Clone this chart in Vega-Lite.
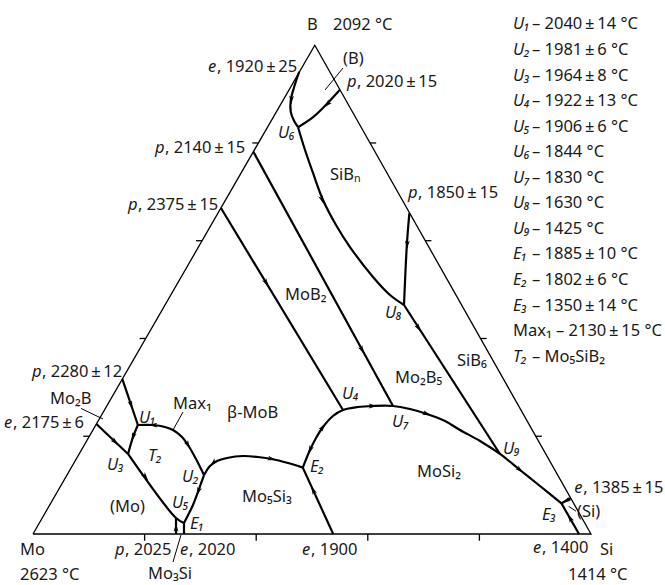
{
"$schema": "https://vega.github.io/schema/vega-lite/v6.json",
"width": 665, "height": 585, "autosize": {"type": "none"}, "padding": 0,
"background": "white",
"config": {"view": {"stroke": null}, "font": "Noto Sans"},
"datasets": {
"tri": [
{"o":1,"x":0,"y":0},{"o":2,"x":100,"y":0},{"o":3,"x":50.5,"y":87.6},{"o":4,"x":0,"y":0}
],
"curves": [
{"c":"C1","o":1,"x":47.7,"y":82.8},{"c":"C1","o":2,"x":46.8,"y":80.1},{"c":"C1","o":3,"x":46.2,"y":77.8},{"c":"C1","o":4,"x":46.2,"y":75.6},{"c":"C1","o":5,"x":46.8,"y":74.0},{"c":"C1","o":6,"x":47.5,"y":72.9},
{"c":"C2","o":1,"x":47.5,"y":72.9},{"c":"C2","o":2,"x":48.75,"y":68.82},{"c":"C2","o":3,"x":50.18,"y":64.7},{"c":"C2","o":4,"x":51.97,"y":59.86},{"c":"C2","o":5,"x":54.3,"y":55.38},{"c":"C2","o":6,"x":56.81,"y":51.43},{"c":"C2","o":7,"x":60.93,"y":46.06},{"c":"C2","o":8,"x":63.98,"y":42.83},{"c":"C2","o":9,"x":66.49,"y":41.04},
{"c":"C3","o":1,"x":55.0,"y":79.6},{"c":"C3","o":2,"x":52.7,"y":77.1},{"c":"C3","o":3,"x":50.2,"y":74.7},{"c":"C3","o":4,"x":47.5,"y":72.9},
{"c":"C4","o":1,"x":67.45,"y":57.5},{"c":"C4","o":2,"x":67.0,"y":51.8},{"c":"C4","o":3,"x":66.49,"y":41.04},
{"c":"C5","o":1,"x":39.5,"y":68.5},{"c":"C5","o":2,"x":64.52,"y":22.94},
{"c":"C6","o":1,"x":33.68,"y":58.42},{"c":"C6","o":2,"x":55.56,"y":22.22},
{"c":"C7","o":1,"x":66.49,"y":41.04},{"c":"C7","o":2,"x":83.69,"y":14.34},
{"c":"C8","o":1,"x":48.35,"y":11.9},{"c":"C8","o":2,"x":49.64,"y":15.05},{"c":"C8","o":3,"x":50.72,"y":17.2},{"c":"C8","o":4,"x":51.97,"y":19.18},{"c":"C8","o":5,"x":53.76,"y":21.15},{"c":"C8","o":6,"x":55.56,"y":22.22},{"c":"C8","o":7,"x":58.24,"y":22.76},{"c":"C8","o":8,"x":60.93,"y":22.94},{"c":"C8","o":9,"x":64.52,"y":22.94},{"c":"C8","o":10,"x":67.56,"y":22.4},{"c":"C8","o":11,"x":70.61,"y":21.51},{"c":"C8","o":12,"x":73.84,"y":20.25},{"c":"C8","o":13,"x":76.52,"y":18.64},{"c":"C8","o":14,"x":80.11,"y":16.67},{"c":"C8","o":15,"x":83.69,"y":14.34},{"c":"C8","o":16,"x":87.28,"y":11.47},{"c":"C8","o":17,"x":90.86,"y":8.6},{"c":"C8","o":18,"x":94.7,"y":5.5},
{"c":"C9","o":1,"x":30.65,"y":10.57},{"c":"C9","o":2,"x":31.72,"y":12.19},{"c":"C9","o":3,"x":32.97,"y":13.08},{"c":"C9","o":4,"x":34.77,"y":13.62},{"c":"C9","o":5,"x":37.63,"y":13.98},{"c":"C9","o":6,"x":40.32,"y":13.8},{"c":"C9","o":7,"x":42.83,"y":13.44},{"c":"C9","o":8,"x":45.7,"y":12.72},{"c":"C9","o":9,"x":48.35,"y":11.9},
{"c":"C10","o":1,"x":53.8,"y":0},{"c":"C10","o":2,"x":48.35,"y":11.9},
{"c":"C11","o":1,"x":97.85,"y":0},{"c":"C11","o":2,"x":94.7,"y":5.5},
{"c":"C12","o":1,"x":96.38,"y":6.4},{"c":"C12","o":2,"x":94.7,"y":5.5},
{"c":"C13","o":1,"x":16.0,"y":27.8},{"c":"C13","o":2,"x":18.8,"y":19.53},
{"c":"C14","o":1,"x":18.8,"y":19.53},{"c":"C14","o":2,"x":17.92,"y":17.38},{"c":"C14","o":3,"x":17.03,"y":14.34},
{"c":"C15","o":1,"x":11.36,"y":19.71},{"c":"C15","o":2,"x":17.03,"y":14.34},
{"c":"C16","o":1,"x":17.03,"y":14.34},{"c":"C16","o":2,"x":25.63,"y":2.87},{"c":"C16","o":3,"x":27.06,"y":1.97},
{"c":"C17","o":1,"x":18.8,"y":19.53},{"c":"C17","o":2,"x":21.51,"y":19.53},{"c":"C17","o":3,"x":23.66,"y":19.18},{"c":"C17","o":4,"x":25.09,"y":18.64},{"c":"C17","o":5,"x":26.7,"y":17.38},{"c":"C17","o":6,"x":27.78,"y":15.95},{"c":"C17","o":7,"x":29.21,"y":13.44},{"c":"C17","o":8,"x":30.65,"y":10.57},
{"c":"C18","o":1,"x":30.65,"y":10.57},{"c":"C18","o":2,"x":29.75,"y":8.06},{"c":"C18","o":3,"x":28.67,"y":5.2},{"c":"C18","o":4,"x":27.06,"y":1.97},
{"c":"C19","o":1,"x":27.06,"y":1.97},{"c":"C19","o":2,"x":27.06,"y":0},
{"c":"C20","o":1,"x":25.63,"y":0},{"c":"C20","o":2,"x":25.63,"y":2.87}
],
"arrows": [
{"x":46.3,"y":77.8,"a":182},{"x":52.7,"y":77.0,"a":225},{"x":51.8,"y":59.9,"a":160},{"x":67.05,"y":51.8,"a":183},
{"x":69.1,"y":36.9,"a":147},{"x":58.98,"y":32.97,"a":151},{"x":41.82,"y":44.98,"a":149},
{"x":49.64,"y":15.05,"a":204},{"x":51.97,"y":19.18,"a":38},{"x":60.93,"y":22.94,"a":90},{"x":70.61,"y":21.51,"a":110},{"x":87.28,"y":11.47,"a":130},
{"x":32.3,"y":12.7,"a":223},{"x":42.83,"y":13.44,"a":104},{"x":50.19,"y":7.89,"a":335},
{"x":96.21,"y":2.87,"a":330},{"x":95.54,"y":5.95,"a":242},
{"x":17.58,"y":23.12,"a":162},{"x":17.92,"y":17.38,"a":199},{"x":14.73,"y":16.49,"a":134},{"x":20.16,"y":10.22,"a":143},
{"x":21.51,"y":19.53,"a":270},{"x":27.78,"y":15.95,"a":150},{"x":29.6,"y":7.6,"a":200},{"x":25.63,"y":1.2,"a":0}
],
"ticks": [
{"x":9.0,"y":17.52,"x2":10.1,"y2":17.52},{"x":19.1,"y":35.04,"x2":20.2,"y2":35.04},{"x":29.2,"y":52.56,"x2":30.3,"y2":52.56},{"x":39.3,"y":70.08,"x2":40.4,"y2":70.08},
{"x":90.1,"y":17.52,"x2":91.2,"y2":17.52},{"x":80.2,"y":35.04,"x2":81.3,"y2":35.04},{"x":70.3,"y":52.56,"x2":71.4,"y2":52.56},{"x":60.4,"y":70.08,"x2":61.5,"y2":70.08},
{"x":20,"y":0,"x2":20,"y2":-1.2},{"x":40,"y":0,"x2":40,"y2":-1.2},{"x":60,"y":0,"x2":60,"y2":-1.2},{"x":80,"y":0,"x2":80,"y2":-1.2}
],
"leaders": [
{"x":55.56,"y":83.51,"x2":52.33,"y2":79.57},{"x":8.6,"y":22.5,"x2":12.54,"y2":20.61},{"x":26.88,"y":21.86,"x2":25.09,"y2":18.64},
{"x":96.0,"y":4.95,"x2":97.3,"y2":4.1},{"x":26.52,"y":-0.18,"x2":25.09,"y2":-5.02}
],
"labN": [
{"x":49.1,"y":91.22,"t":"B"},{"x":53.76,"y":91.22,"t":"2092 °C"},
{"x":32.97,"y":83.69,"t":", 1920\u2009±\u200925"},{"x":55.56,"y":85.13,"t":"(B)"},{"x":58.06,"y":81.0,"t":", 2020\u2009±\u200915"},
{"x":23.66,"y":69.18,"t":", 2140\u2009±\u200915"},{"x":18.82,"y":58.96,"t":", 2375\u2009±\u200915"},{"x":69.0,"y":61.11,"t":", 1850\u2009±\u200915"},
{"x":1.61,"y":29.03,"t":", 2280\u2009±\u200912"},{"x":-3.58,"y":19.95,"t":", 2175\u2009±\u20096"},{"x":98.6,"y":8.24,"t":", 1385\u2009±\u200915"},
{"x":91.22,"y":-2.51,"t":", 1400"},{"x":49.82,"y":-2.87,"t":", 1900"},{"x":16.49,"y":-2.87,"t":", 2025"},{"x":27.96,"y":-2.87,"t":", 2020"},
{"x":-2.33,"y":-2.87,"t":"Mo"},{"x":-2.33,"y":-7.35,"t":"2623 °C"},{"x":20.61,"y":-7.17,"t":"Mo₃Si"},{"x":101.61,"y":-2.87,"t":"Si"},{"x":95.88,"y":-7.35,"t":"1414 °C"},
{"x":53.23,"y":64.34,"t":"SiBₙ"},{"x":45.16,"y":42.83,"t":"MoB₂"},{"x":75.99,"y":31.0,"t":"SiB₆"},{"x":64.87,"y":27.96,"t":"Mo₂B₅"},
{"x":34.77,"y":21.68,"t":"β-MoB"},{"x":37.46,"y":6.63,"t":"Mo₅Si₃"},{"x":68.82,"y":11.11,"t":"MoSi₂"},{"x":97.49,"y":3.94,"t":"(Si)"},
{"x":3.05,"y":24.2,"t":"Mo₂B"},{"x":25.09,"y":23.3,"t":"Max₁"},{"x":13.8,"y":4.84,"t":"(Mo)"},
{"x":89.43,"y":91.31,"t":"– 2040\u2009±\u200914 °C"},{"x":89.43,"y":86.73,"t":"– 1981\u2009±\u20096 °C"},{"x":89.43,"y":82.15,"t":"– 1964\u2009±\u20098 °C"},
{"x":89.43,"y":77.57,"t":"– 1922\u2009±\u200913 °C"},{"x":89.43,"y":72.99,"t":"– 1906\u2009±\u20096 °C"},{"x":89.43,"y":68.41,"t":"– 1844 °C"},
{"x":89.43,"y":63.84,"t":"– 1830 °C"},{"x":89.43,"y":59.26,"t":"– 1630 °C"},{"x":89.43,"y":54.68,"t":"– 1425 °C"},
{"x":89.43,"y":50.1,"t":"– 1885\u2009±\u200910 °C"},{"x":89.43,"y":45.52,"t":"– 1802\u2009±\u20096 °C"},{"x":89.43,"y":40.94,"t":"– 1350\u2009±\u200914 °C"},
{"x":86.02,"y":36.36,"t":"Max₁ – 2130\u2009±\u200915 °C"},{"x":89.43,"y":31.78,"t":"– Mo₅SiB₂"}
],
"labI": [
{"x":31.36,"y":83.69,"t":"e"},{"x":56.27,"y":81.0,"t":"p"},{"x":21.86,"y":69.18,"t":"p"},{"x":17.03,"y":58.96,"t":"p"},{"x":67.2,"y":61.11,"t":"p"},
{"x":-0.18,"y":29.03,"t":"p"},{"x":-5.2,"y":19.95,"t":"e"},{"x":96.99,"y":8.24,"t":"e"},{"x":89.61,"y":-2.51,"t":"e"},{"x":48.21,"y":-2.87,"t":"e"},
{"x":14.7,"y":-2.87,"t":"p"},{"x":26.34,"y":-2.87,"t":"e"},
{"x":43.91,"y":71.86,"t":"U₆"},{"x":63.08,"y":39.61,"t":"U₈"},{"x":55.38,"y":25.09,"t":"U₄"},{"x":64.34,"y":20.07,"t":"U₇"},{"x":49.64,"y":12.01,"t":"E₂"},
{"x":84.23,"y":15.23,"t":"U₉"},{"x":91.22,"y":3.41,"t":"E₃"},{"x":19.0,"y":20.79,"t":"U₁"},{"x":20.61,"y":13.98,"t":"T₂"},{"x":13.26,"y":12.37,"t":"U₃"},
{"x":26.7,"y":10.22,"t":"U₂"},{"x":24.91,"y":5.56,"t":"U₅"},{"x":28.14,"y":1.79,"t":"E₁"},
{"x":86.02,"y":91.31,"t":"U₁"},{"x":86.02,"y":86.73,"t":"U₂"},{"x":86.02,"y":82.15,"t":"U₃"},{"x":86.02,"y":77.57,"t":"U₄"},{"x":86.02,"y":72.99,"t":"U₅"},
{"x":86.02,"y":68.41,"t":"U₆"},{"x":86.02,"y":63.84,"t":"U₇"},{"x":86.02,"y":59.26,"t":"U₈"},{"x":86.02,"y":54.68,"t":"U₉"},
{"x":86.02,"y":50.1,"t":"E₁"},{"x":86.02,"y":45.52,"t":"E₂"},{"x":86.02,"y":40.94,"t":"E₃"},{"x":86.02,"y":31.78,"t":"T₂"}
]
},
"encoding": {
"x": {"field": "x", "type": "quantitative", "scale": {"domain": [-5.914, 113.262], "nice": false, "zero": false}, "axis": null},
"y": {"field": "y", "type": "quantitative", "scale": {"domain": [-9.14, 95.699], "nice": false, "zero": false}, "axis": null}
},
"layer": [
{"data": {"name": "tri"}, "mark": {"type": "line", "color": "black", "strokeWidth": 1.3, "clip": false},
 "encoding": {"order": {"field": "o", "type": "quantitative"}}},
{"data": {"name": "ticks"}, "mark": {"type": "rule", "color": "black", "strokeWidth": 1.3},
 "encoding": {"x2": {"field": "x2"}, "y2": {"field": "y2"}}},
{"data": {"name": "leaders"}, "mark": {"type": "rule", "color": "black", "strokeWidth": 1},
 "encoding": {"x2": {"field": "x2"}, "y2": {"field": "y2"}}},
{"data": {"name": "curves"}, "mark": {"type": "line", "color": "black", "strokeWidth": 2.2, "interpolate": "catmull-rom", "strokeJoin": "round"},
 "encoding": {"detail": {"field": "c", "type": "nominal"}, "order": {"field": "o", "type": "quantitative"}}},
{"data": {"name": "arrows"}, "mark": {"type": "point", "shape": "M0,-1L0.55,1L0,0.5L-0.55,1Z", "filled": true, "color": "black", "opacity": 1, "size": 75},
 "encoding": {"angle": {"field": "a", "type": "quantitative", "scale": null}}},
{"data": {"name": "labN"}, "mark": {"type": "text", "align": "left", "baseline": "middle", "fontSize": 16.5, "font": "Noto Sans", "color": "#1a1a1a"},
 "encoding": {"text": {"field": "t"}}},
{"data": {"name": "labI"}, "mark": {"type": "text", "align": "left", "baseline": "middle", "fontSize": 16.5, "font": "Noto Sans", "fontStyle": "italic", "color": "#1a1a1a"},
 "encoding": {"text": {"field": "t"}}}
]
}
